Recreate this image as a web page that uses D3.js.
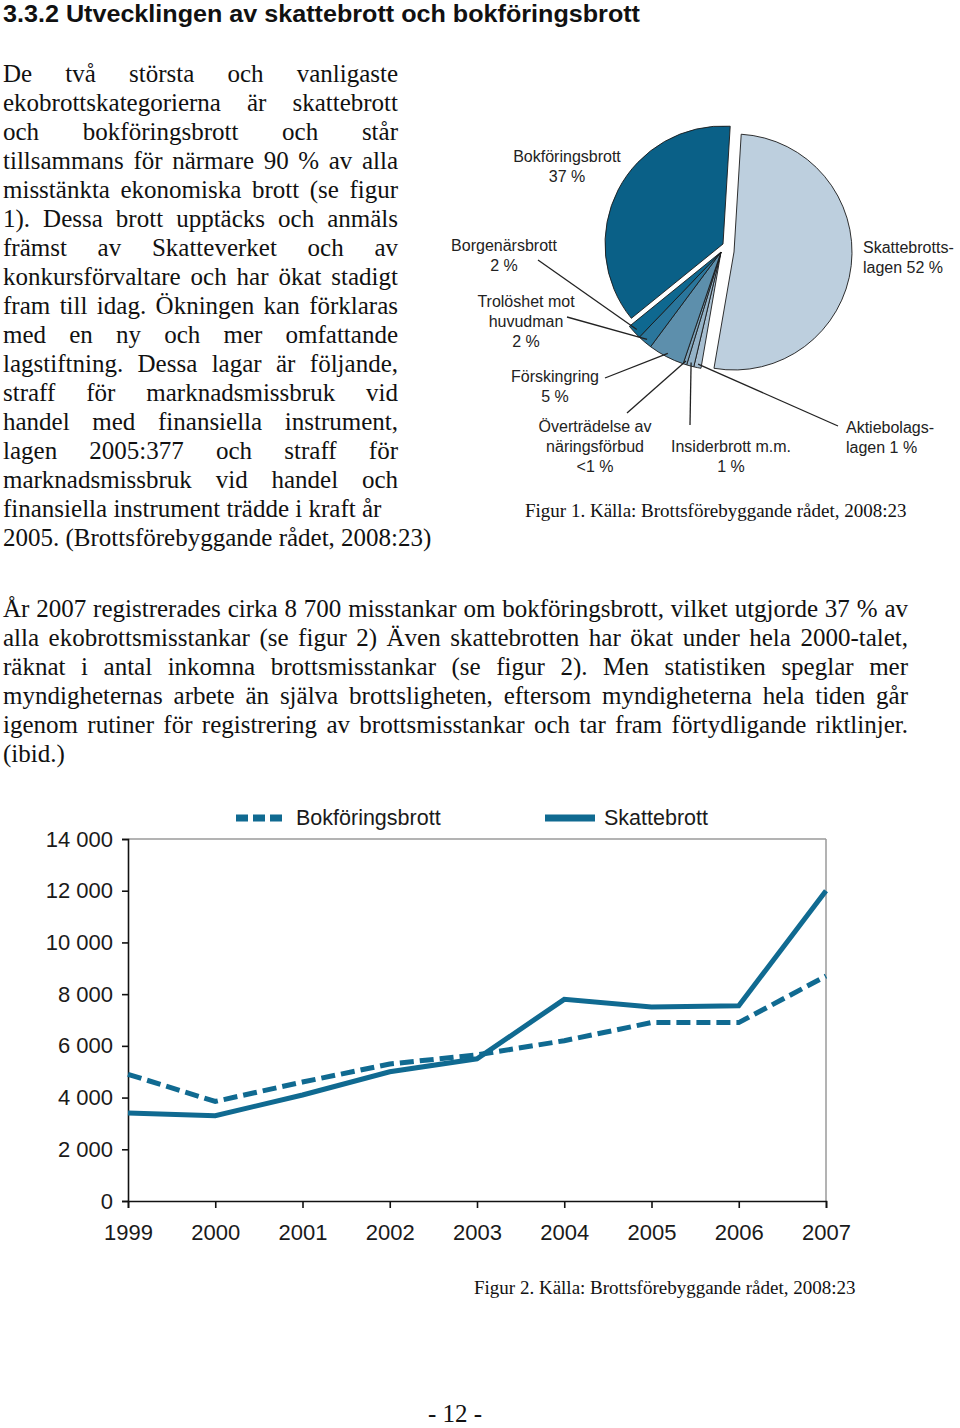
<!DOCTYPE html>
<html><head><meta charset="utf-8">
<script src="https://cdn.jsdelivr.net/npm/d3@7"></script>
<style>body{margin:0;background:#fff} svg{display:block}</style>
</head><body>
<svg id="page" width="960" height="1428"></svg>
<script>
// ---------------- DATA ----------------
const pieCategories = ["Skattebrottslagen","Aktiebolagslagen","Insiderbrott m.m.","Överträdelse av näringsförbud","Förskingring","Trolöshet mot huvudman","Borgenärsbrott","Bokföringsbrott"];
const pieValues = [52, 1, 1, 0.5, 5, 2, 2, 37];
const pieLabels = [["Skattebrotts-","lagen 52 %"],["Aktiebolags-","lagen 1 %"],["Insiderbrott m.m.","1 %"],["Överträdelse av","näringsförbud","<1 %"],["Förskingring","5 %"],["Trolöshet mot","huvudman","2 %"],["Borgenärsbrott","2 %"],["Bokföringsbrott","37 %"]];

const years = [1999, 2000, 2001, 2002, 2003, 2004, 2005, 2006, 2007];
const bokforingsbrott = [4900, 3850, 4600, 5300, 5650, 6200, 6900, 6900, 8700];
const skattebrott = [3400, 3300, 4100, 5000, 5500, 7800, 7500, 7550, 12000];
const seriesNames = ["Bokföringsbrott", "Skattebrott"];
const yTicks = [0, 2000, 4000, 6000, 8000, 10000, 12000, 14000];

const titleText = "3.3.2 Utvecklingen av skattebrott och bokföringsbrott";
const leftLines = [
 "De två största och vanligaste",
 "ekobrottskategorierna är skattebrott",
 "och bokföringsbrott och står",
 "tillsammans för närmare 90 % av alla",
 "misstänkta ekonomiska brott (se figur",
 "1). Dessa brott upptäcks och anmäls",
 "främst av Skatteverket och av",
 "konkursförvaltare och har ökat stadigt",
 "fram till idag. Ökningen kan förklaras",
 "med en ny och mer omfattande",
 "lagstiftning. Dessa lagar är följande,",
 "straff för marknadsmissbruk vid",
 "handel med finansiella instrument,",
 "lagen 2005:377 och straff för",
 "marknadsmissbruk vid handel och",
 "finansiella instrument trädde i kraft år",
 "2005. (Brottsförebyggande rådet, 2008:23)"
];
const bottomLines = [
 "År 2007 registrerades cirka 8 700 misstankar om bokföringsbrott, vilket utgjorde 37 % av",
 "alla ekobrottsmisstankar (se figur 2) Även skattebrotten har ökat under hela 2000-talet,",
 "räknat i antal inkomna brottsmisstankar (se figur 2). Men statistiken speglar mer",
 "myndigheternas arbete än själva brottsligheten, eftersom myndigheterna hela tiden går",
 "igenom rutiner för registrering av brottsmisstankar och tar fram förtydligande riktlinjer.",
 "(ibid.)"
];
const caption1 = "Figur 1. Källa: Brottsförebyggande rådet, 2008:23";
const caption2 = "Figur 2. Källa: Brottsförebyggande rådet, 2008:23";
const pageNumber = "- 12 -";

// ---------------- STYLE / LAYOUT ----------------
const serif = "'Liberation Serif','Times New Roman',serif";
const sans = "'Liberation Sans',Arial,Helvetica,sans-serif";
const pieColors = ["#bdcfde","#a8bfd1","#94b2c7","#7ea3bb","#5d8fac","#2a769c","#0e6890","#0a6087"];
const pieExplode = [[13,0],[0,0],[0,0],[0,0],[0,0],[0,0],[0,0],[2,-8]];
const pieLabelLayout = [
  {x:863, y:253, anchor:"start", lead:null},
  {x:846, y:433, anchor:"start", lead:[838,426]},
  {x:731, y:452, anchor:"middle", lead:[690,425]},
  {x:595, y:432, anchor:"middle", lead:[627,413]},
  {x:555, y:382, anchor:"middle", lead:[605,378]},
  {x:526, y:307, anchor:"middle", lead:[567,317]},
  {x:504, y:251, anchor:"middle", lead:[538,260]},
  {x:567, y:162, anchor:"middle", lead:null}
];
const lineColor = "#106a91";

const svg = d3.select("#page");

// Title
svg.append("text").attr("x",3).attr("y",22)
  .attr("font-family","'Liberation Sans Narrow','Liberation Sans',Arial,sans-serif")
  .attr("font-weight","bold").attr("font-size",24)
  .attr("textLength",637).attr("lengthAdjust","spacingAndGlyphs")
  .attr("fill","#111").text(titleText);

// Justified text helper
function writeLines(lines, x, y0, pitch, width, justifyCount){
  lines.forEach((s,i)=>{
    const t = svg.append("text").attr("x",x).attr("y",y0+i*pitch)
      .attr("font-family",serif).attr("font-size",25).attr("fill","#111")
      .style("white-space","pre").text(s);
    if(i < justifyCount){
      const w = t.node().getComputedTextLength();
      const n = (s.match(/ /g)||[]).length;
      if(n>0) t.style("word-spacing", ((width - w)/n) + "px");
    }
  });
}
writeLines(leftLines, 3, 82, 29, 395, 15);
writeLines(bottomLines, 3, 617, 29, 905, 5);

// Captions
svg.append("text").attr("x",525).attr("y",517).attr("font-family",serif).attr("font-size",19).attr("fill","#111").text(caption1);
svg.append("text").attr("x",474).attr("y",1294).attr("font-family",serif).attr("font-size",19).attr("fill","#111").text(caption2);
svg.append("text").attr("x",455).attr("y",1422).attr("text-anchor","middle").attr("font-family",serif).attr("font-size",25).attr("fill","#111").text(pageNumber);

// ---------------- PIE ----------------
const cx = 721, cy = 252, R = 118;
const start = 3.5*Math.PI/180;
const pie = d3.pie().sort(null).startAngle(start).endAngle(start+2*Math.PI);
const arcs = pie(pieValues);
const arc = d3.arc().innerRadius(0).outerRadius(R);
const pg = svg.append("g").attr("transform",`translate(${cx},${cy})`);
pg.selectAll("path.slice").data(arcs).join("path").attr("class","slice")
  .attr("transform",(d,i)=>`translate(${pieExplode[i][0]},${pieExplode[i][1]})`)
  .attr("d",arc).attr("fill",(d,i)=>pieColors[i])
  .attr("stroke","#1a1a1a").attr("stroke-width",0.9).attr("stroke-linejoin","round");

// leader lines
arcs.forEach((d,i)=>{
  const L = pieLabelLayout[i];
  if(!L.lead) return;
  const a = (d.startAngle+d.endAngle)/2;
  const r = R*0.97;
  const px = cx + pieExplode[i][0] + r*Math.sin(a);
  const py = cy + pieExplode[i][1] - r*Math.cos(a);
  svg.append("line").attr("x1",L.lead[0]).attr("y1",L.lead[1]).attr("x2",px).attr("y2",py)
    .attr("stroke","#222").attr("stroke-width",1.3);
});
// labels
pieLabels.forEach((lines,i)=>{
  const L = pieLabelLayout[i];
  const t = svg.append("text").attr("font-family",sans).attr("font-size",16)
    .attr("fill","#222").attr("text-anchor",L.anchor);
  lines.forEach((s,j)=>t.append("tspan").attr("x",L.x).attr("y",L.y+j*20).text(s));
});

// ---------------- LINE CHART ----------------
const x = d3.scaleLinear().domain([1999,2007]).range([128,826]);
const y = d3.scaleLinear().domain([0,14000]).range([1201,839]);
const loc = d3.formatLocale({decimal:",", thousands:" ", grouping:[3], currency:["",""]});
const fmt = loc.format(",");

// frame top/right
svg.append("line").attr("x1",x(1999)).attr("x2",x(2007)).attr("y1",y(14000)).attr("y2",y(14000)).attr("stroke","#9a9a9a").attr("stroke-width",1.5);
svg.append("line").attr("x1",x(2007)).attr("x2",x(2007)).attr("y1",y(14000)).attr("y2",y(0)).attr("stroke","#9a9a9a").attr("stroke-width",1.5);

const yAxis = svg.append("g").attr("transform",`translate(${x(1999)},0)`)
  .call(d3.axisLeft(y).tickValues(yTicks).tickFormat(fmt).tickSize(6).tickPadding(9));
const xAxis = svg.append("g").attr("transform",`translate(0,${y(0)})`)
  .call(d3.axisBottom(x).tickValues(years).tickFormat(d3.format("d")).tickSize(7).tickPadding(16));
[yAxis,xAxis].forEach(g=>{
  g.selectAll("path,line").attr("stroke","#111").attr("stroke-width",1.6);
  g.selectAll("text").attr("font-family",sans).attr("font-size",22).attr("fill","#1a1a1a");
});

const line = d3.line().x((d,i)=>x(years[i])).y(d=>y(d));
svg.append("path").datum(bokforingsbrott).attr("d",line).attr("fill","none")
  .attr("stroke",lineColor).attr("stroke-width",5).attr("stroke-dasharray","14,6");
svg.append("path").datum(skattebrott).attr("d",line).attr("fill","none")
  .attr("stroke",lineColor).attr("stroke-width",5).attr("stroke-linejoin","miter");

// legend
const legend = [
  {name:seriesNames[0], x1:236, x2:282, tx:296, dash:"12,5"},
  {name:seriesNames[1], x1:545, x2:595, tx:604, dash:null}
];
legend.forEach(l=>{
  svg.append("line").attr("x1",l.x1).attr("x2",l.x2).attr("y1",818).attr("y2",818)
    .attr("stroke",lineColor).attr("stroke-width",7).attr("stroke-dasharray",l.dash);
  svg.append("text").attr("x",l.tx).attr("y",825).attr("font-family",sans).attr("font-size",21.5)
    .attr("fill","#1a1a1a").text(l.name);
});
</script>
</body></html>
